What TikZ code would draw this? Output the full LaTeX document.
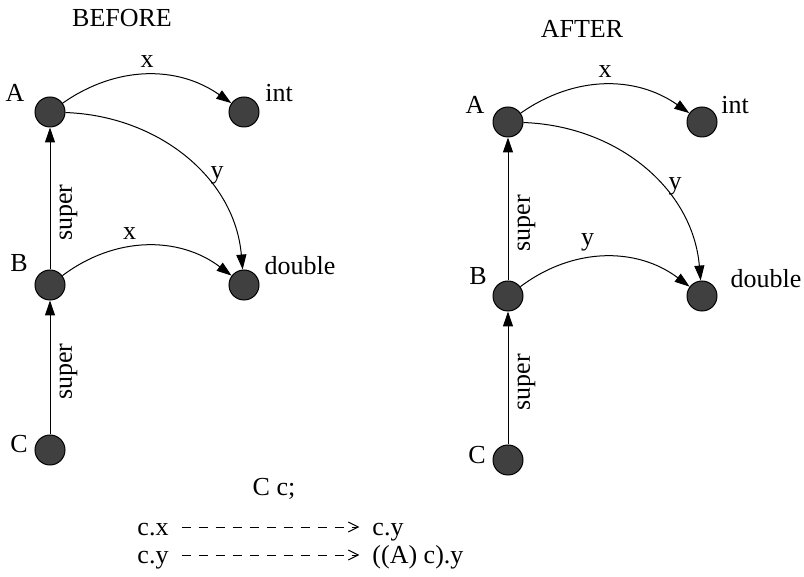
\documentclass[tikz,border=0pt]{standalone}
\usepackage{fontspec}
\setmainfont{Liberation Serif}
\usetikzlibrary{positioning, arrows.meta}

\definecolor{objgray}{RGB}{64,64,64}
\tikzset{
  obj/.style={circle, draw, fill=objgray, minimum size=15pt, inner sep=0pt, line width=0.5pt},
  edge/.style={draw, line width=0.5pt, -{Triangle[length=7.5pt, width=5pt]}},
  ref/.style={draw, line width=0.5pt, dash pattern=on 4.5pt off 4pt, -{Straight Barb[length=5pt, width=5pt]}, shorten <=3pt, shorten >=3pt},
  code/.style={text height=0.95em, text depth=0.1em},
  sup/.style={sloped, below, inner sep=4.5pt}
}

\begin{document}
\begin{tikzpicture}[x=1pt, y=1pt, font=\fontsize{13}{15.6}\selectfont]
\useasboundingbox (0,0) rectangle (402,-288.5);

%Declare nodes (before).
\node (before) at (61,-9) {BEFORE};
\node[obj] (A1) at (25,-56) {};
\node[obj, right=81.5pt of A1] (int1) {};
\node[obj, below=71pt of A1] (B1) {};
\node[obj, right=81.5pt of B1] (dbl1) {};
\node[obj, below=67pt of B1] (C1) {};

\node (A1n) at ([shift={(-17.5,9.5)}]A1) {A};
\node (int1n) at ([shift={(17.5,9.5)}]int1) {int};
\node (B1n) at ([shift={(-15.5,11)}]B1) {B};
\node (dbl1n) at ([shift={(28,9.5)}]dbl1) {double};
\node (C1n) at ([shift={(-15.5,3)}]C1) {C};

%Declare nodes (after).
\node (after) at (291,-14.5) {AFTER};
\node[obj] (A2) at (254,-61) {};
\node[obj, right=81.5pt of A2] (int2) {};
\node[obj, below=71.5pt of A2] (B2) {};
\node[obj, right=81.5pt of B2] (dbl2) {};
\node[obj, below=66.5pt of B2] (C2) {};

\node (A2n) at ([shift={(-16.5,8.5)}]A2) {A};
\node (int2n) at ([shift={(16.5,8.5)}]int2) {int};
\node (B2n) at ([shift={(-15,10)}]B2) {B};
\node (dbl2n) at ([shift={(32,8.5)}]dbl2) {double};
\node (C2n) at ([shift={(-15.5,2.5)}]C2) {C};

%Declare code lines.
\node (decl) at (137,-244.5) {C c;};
\node[code, anchor=west] (cx1) at (65.2,-263.5) {c.x};
\node[code, anchor=west] (cy1) at (182.7,-263.5) {c.y};
\node[code, anchor=west] (cy2) at (65.2,-277.5) {c.y};
\node[code, anchor=west] (cast) at (182.7,-277.5) {((A) c).y};

%Setup edges (before).
\draw[edge] (A1) to[bend left=35] node[above] {x} (int1);
\draw[edge] (A1) to[out=-2, in=95] node[pos=0.6, right] {y} (dbl1);
\draw[edge] (B1) to[bend left=37] node[pos=0.4, above] {x} (dbl1);
\draw[edge] (B1) -- node[pos=0.4, sup] {super} (A1);
\draw[edge] (C1) -- node[pos=0.47, sup] {super} (B1);

%Setup edges (after).
\draw[edge] (A2) to[bend left=35] node[above] {x} (int2);
\draw[edge] (A2) to[out=-2, in=95] node[pos=0.6, right] {y} (dbl2);
\draw[edge] (B2) to[bend left=37] node[pos=0.4, above] {y} (dbl2);
\draw[edge] (B2) -- node[pos=0.4, sup] {super} (A2);
\draw[edge] (C2) -- node[pos=0.47, sup] {super} (B2);

%Setup rewrites.
\draw[ref] (cx1) -- (cy1);
\draw[ref] (cy2) -- (cast);

\end{tikzpicture}
\end{document}
